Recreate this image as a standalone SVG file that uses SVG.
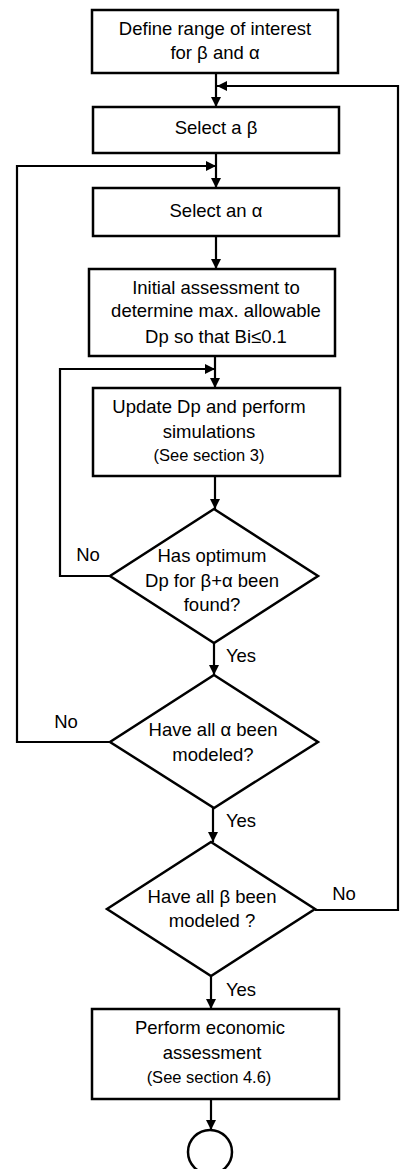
<svg xmlns="http://www.w3.org/2000/svg" width="400" height="1169" viewBox="0 0 400 1169">
  <style>
    .box { fill: #ffffff; stroke: #000000; stroke-width: 2.5; }
    .line { fill: none; stroke: #000000; stroke-width: 2.2; }
    text { font-family: "Liberation Sans", Arial, sans-serif; font-size: 18.5px; fill: #000000; text-anchor: middle; }
    .small { font-size: 16.5px; }
  </style>
  <defs>
    <marker id="arrow" markerWidth="10" markerHeight="10" refX="10" refY="5" orient="auto" markerUnits="userSpaceOnUse" viewBox="0 0 10 10">
      <path d="M0,0 L10,5 L0,10 Z" fill="#000000"/>
    </marker>
  </defs>

  <g id="connectors">
    <line class="line" x1="216" y1="73" x2="216" y2="107" marker-end="url(#arrow)"/>
    <polyline class="line" points="315,910 398,910 398,86 217,86" marker-end="url(#arrow)"/>
    <line class="line" x1="216" y1="153" x2="216" y2="188" marker-end="url(#arrow)"/>
    <polyline class="line" points="110,742 17,742 17,166 216,166" marker-end="url(#arrow)"/>
    <line class="line" x1="216" y1="236" x2="216" y2="269" marker-end="url(#arrow)"/>
    <line class="line" x1="215" y1="356" x2="215" y2="388" marker-end="url(#arrow)"/>
    <polyline class="line" points="110,576 60,576 60,369 215,369" marker-end="url(#arrow)"/>
    <line class="line" x1="215" y1="476" x2="215" y2="509" marker-end="url(#arrow)"/>
    <line class="line" x1="214" y1="643" x2="214" y2="675" marker-end="url(#arrow)"/>
    <line class="line" x1="213" y1="808" x2="213" y2="842" marker-end="url(#arrow)"/>
    <line class="line" x1="211" y1="976" x2="211" y2="1009" marker-end="url(#arrow)"/>
    <line class="line" x1="211" y1="1099" x2="211" y2="1130" marker-end="url(#arrow)"/>
    <text x="88" y="561">No</text>
    <text x="241" y="662">Yes</text>
    <text x="66" y="728">No</text>
    <text x="241" y="827">Yes</text>
    <text x="344" y="900">No</text>
    <text x="241" y="996">Yes</text>
  </g>

  <g id="define-range">
    <rect class="box" x="92" y="10" width="246" height="63"/>
    <text x="215" y="35">Define range of interest</text>
    <text x="215" y="59">for β and α</text>
  </g>

  <g id="select-beta">
    <rect class="box" x="93" y="107" width="246" height="46"/>
    <text x="216" y="134">Select a β</text>
  </g>

  <g id="select-alpha">
    <rect class="box" x="93" y="188" width="246" height="48"/>
    <text x="216" y="217">Select an α</text>
  </g>

  <g id="initial-assessment">
    <rect class="box" x="89" y="269" width="246" height="87"/>
    <text x="216" y="294">Initial assessment to</text>
    <text x="216" y="317">determine max. allowable</text>
    <text x="216" y="343">Dp so that Bi≤0.1</text>
  </g>

  <g id="update-dp">
    <rect class="box" x="93" y="388" width="247" height="88"/>
    <text x="209" y="413">Update Dp and perform</text>
    <text x="209" y="438">simulations</text>
    <text class="small" x="209" y="461">(See section 3)</text>
  </g>

  <g id="optimum-found">
    <polygon class="box" points="214,509 318,576 214,643 110,576"/>
    <text x="212" y="562">Has optimum</text>
    <text x="212" y="587">Dp for β+α been</text>
    <text x="212" y="611">found?</text>
  </g>

  <g id="all-alpha">
    <polygon class="box" points="214,675 318,742 214,808 110,742"/>
    <text x="213" y="736">Have all α been</text>
    <text x="213" y="761">modeled?</text>
  </g>

  <g id="all-beta">
    <polygon class="box" points="211,842 315,909 211,976 107,909"/>
    <text x="212" y="903">Have all β been</text>
    <text x="212" y="927">modeled ?</text>
  </g>

  <g id="economic-assessment">
    <rect class="box" x="92" y="1009" width="247" height="90"/>
    <text x="210" y="1034">Perform economic</text>
    <text x="212" y="1059">assessment</text>
    <text class="small" x="209" y="1083">(See section 4.6)</text>
  </g>

  <g id="end">
    <circle class="box" cx="210" cy="1152" r="22"/>
  </g>
</svg>
